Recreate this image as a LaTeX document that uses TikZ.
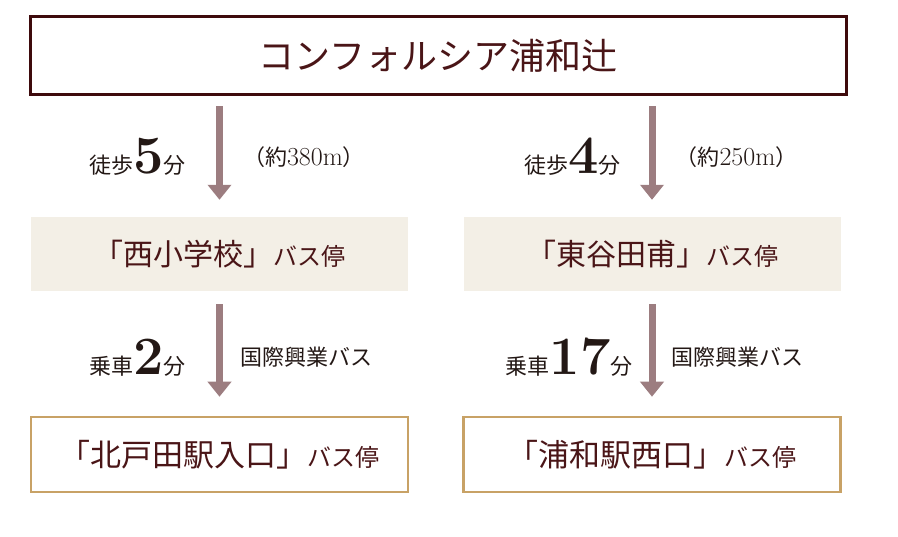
\documentclass[tikz,border=0pt]{standalone}
\usepackage{fontspec}
\newfontfamily\cjk{Noto Sans CJK JP}
\usetikzlibrary{arrows.meta,positioning}
\definecolor{maroon}{HTML}{3E0A0C}
\definecolor{stopink}{HTML}{4A1517}
\definecolor{noteink}{HTML}{231815}
\definecolor{beige}{HTML}{F3EFE6}
\definecolor{gold}{HTML}{C8A266}
\definecolor{mauve}{HTML}{9C7D80}
\newcommand{\bignum}[1]{{\rmfamily\bfseries\fontsize{54}{54}\selectfont #1}}
\newcommand{\busstop}[2][30]{{\fontsize{#1}{#1}\selectfont #2}{\fontsize{24}{24}\selectfont バス停}}

\begin{document}
\begin{tikzpicture}[x=1pt,y=-1pt,>={Triangle[width=23pt,length=15pt]}]
  \tikzstyle{title}=[rectangle,draw=maroon,line width=3pt,minimum width=816pt,minimum height=78pt,
    text=stopink,font=\cjk\fontsize{36}{36}\selectfont]
  \tikzstyle{firststop}=[rectangle,fill=beige,minimum width=377pt,minimum height=74pt,
    text=stopink,font=\cjk]
  \tikzstyle{laststop}=[rectangle,draw=gold,line width=2.5pt,minimum width=377pt,minimum height=75pt,
    text=stopink,font=\cjk]
  \tikzstyle{walk}=[draw=mauve,line width=7pt,->]
  \tikzstyle{note}=[inner sep=0pt,text=noteink,font=\cjk\fontsize{22}{22}\selectfont]
  \useasboundingbox (0,0) rectangle (898,537);

  \node [title] (conf) at (438,56) {コンフォルシア浦和辻};

  \node [firststop] (nishi) at (219.5,254) {\busstop{「西小学校」}};
  \node [firststop] (higashi) at (652,254) {\busstop{「東谷田甫」}};

  \node [laststop] (kitatoda) at (219.5,454.5) {\busstop[31]{「北戸田駅入口」}};
  \node [laststop] (urawa) at (652,454.5) {\busstop[31]{「浦和駅西口」}};

  % walking
  \draw [walk,shorten <=10pt,shorten >=17pt] (nishi.north |- conf.south) -- (nishi.north)
    node [note,midway,left=30pt] {徒歩\bignum{5}分}
    node [note,midway,right=20pt] {（約{\rmfamily\fontsize{26}{26}\selectfont 380m}）};
  \draw [walk,shorten <=10pt,shorten >=17pt] (higashi.north |- conf.south) -- (higashi.north)
    node [note,midway,left=28pt] {徒歩\bignum{4}分}
    node [note,midway,right=20pt] {（約{\rmfamily\fontsize{26}{26}\selectfont 250m}）};

  % bus
  \draw [walk,shorten <=13pt,shorten >=19pt] (nishi.south) -- (kitatoda.north)
    node [note,midway,left=30pt,yshift=-4pt] {乗車\bignum{2}分}
    node [note,midway,right=17pt,yshift=-4pt] {国際興業バス};
  \draw [walk,shorten <=13pt,shorten >=19pt] (higashi.south) -- (urawa.north)
    node [note,midway,left=16pt,yshift=-4pt] {乗車\bignum{17}分}
    node [note,midway,right=16pt,yshift=-4pt] {国際興業バス};
\end{tikzpicture}
\end{document}
